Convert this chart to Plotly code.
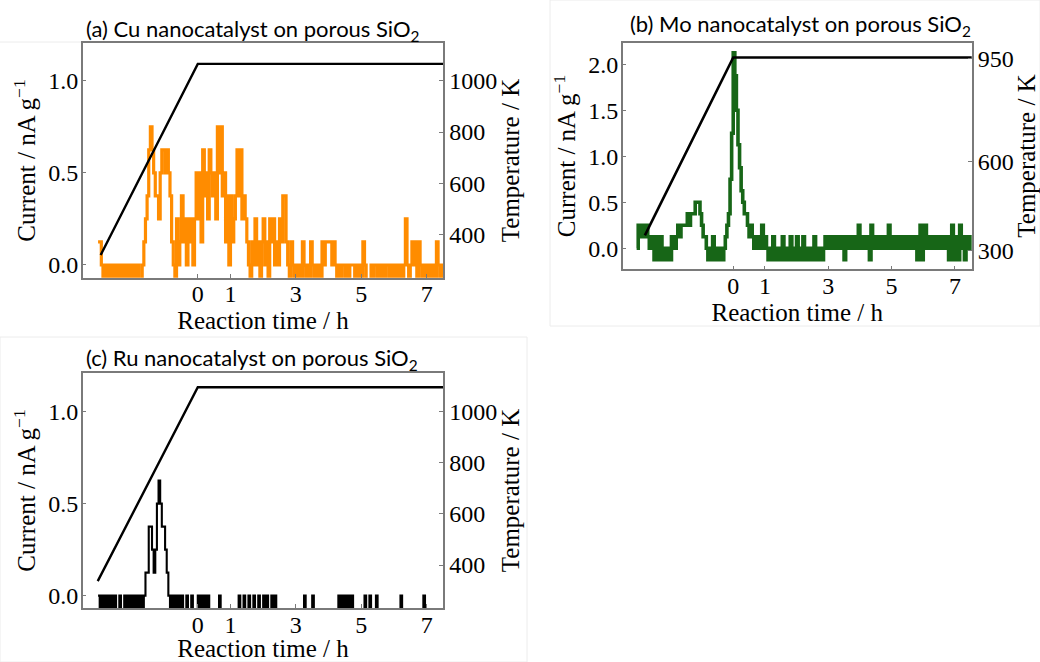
import numpy as np
import plotly.graph_objects as go

# ---------------- data ----------------
STEP_H = 0.05          # sampling interval of the current trace (h)
LEVEL = 0.125          # current quantisation step (nA g^-1)

time_ticks = [0, 1, 3, 5, 7]

# (a) Cu nanocatalyst: current levels (units of LEVEL), one value per STEP_H from cu_t0
cu_t0 = -3.05
cu_levels = [
    1, 1, 0, -1, 0, -1, 0, -1, 0, -1,
    0, -1, 0, -1, 0, -1, 0, -1, 0, -1,
    0, -1, 0, -1, 0, -1, -1, 0, 1, 2,
    3, 5, 6, 5, 4, 3, 3, 2, 4, 5,
    5, 4, 5, 4, 3, 1, 0, -1, 2, 0,
    1, 3, 1, 2, 0, 2, 1, 2, 0, 2,
    4, 2, 4, 1, 5, 3, 4, 2, 5, 4,
    3, 4, 2, 6, 4, 6, 3, 4, 1, 3,
    0, 3, 1, 2, 3, 5, 3, 5, 2, 3,
    2, 1, 0, -1, 1, 0, 2, 0, 1, -1,
    1, 2, 0, 1, -1, 2, 1, 2, 0, 1,
    0, 2, 1, 3, 3, 1, 0, -1, 1, 0,
    -1, 0, -1, 0, -1, 1, 0, -1, 0, -1,
    1, 0, -1, 0, -1, 0, -1, 1, 0, 1,
    1, 1, 1, 0, 1, 0, -1, 0, -1, 0,
    0, -1, 0, -1, 0, 0, 0, -1, 0, -1,
    0, -1, 1, 0, -1, -1, -1, 0, -1, 0,
    0, -1, 0, -1, 0, -1, 0, 0, -1, 0,
    -1, 0, -1, 0, -1, 0, -1, 0, 2, 0,
    -1, 0, 1, 0, 1, -1, 1, 0, -1, 0,
    -1, 0, -1, 0, -1, 0, -1, 1, 0, -1,
    0, -1,
]
cu_temp_time = [-2.97, 0.0, 7.6]
cu_temp_K = [322, 1065, 1065]

# (b) Mo nanocatalyst
mo_t0 = -3.05
mo_levels = [
    0, 2, 1, 1, 2, 1, 2, 1, 0, 1,
    0, -1, 1, -1, 0, 1, -1, 0, -1, -1,
    0, -1, 1, 1, 0, 1, 2, 1, 2, 2,
    2, 2, 3, 2, 3, 3, 3, 4, 4, 4,
    3, 2, 1, 1, 0, -1, 0, -1, 1, 0,
    -1, 0, -1, 0, -1, 0, 1, 2, 3, 6,
    10, 17, 15, 12, 9, 7, 5, 4, 3, 3,
    2, 1, 2, 1, 0, 1, 0, 1, 0, 2,
    0, 1, 0, -1, 0, -1, 1, -1, 0, -1,
    0, -1, 1, -1, 0, -1, 0, 1, -1, 0,
    -1, 1, -1, 0, -1, 1, 0, -1, 0, -1,
    0, -1, 1, -1, 0, -1, 0, -1, 0, 1,
    0, 1, 0, 1, 0, 1, 0, 1, 0, 1,
    0, -1, 1, 0, 1, 0, 1, 0, 1, 0,
    2, 0, 1, 0, 1, 0, 1, -1, 2, 1,
    0, 1, 0, 1, 0, 1, 0, 1, 0, 2,
    1, 0, 1, 0, 1, 0, 1, 0, 1, 0,
    1, 0, 1, 0, 1, 0, 1, -1, 0, 2,
    -1, 1, 2, 0, 1, 0, 1, 0, 1, 0,
    1, 0, 1, 0, 1, 0, 1, -1, 0, 2,
    -1, 1, 0, -1, 2, 0, 1, -1, 0, 1,
    0, 1, 0,
]
mo_temp_time = [-2.79, 0.0, 7.6]
mo_temp_K = [350, 953, 953]

# (c) Ru nanocatalyst
ru_t0 = -3.05
ru_levels = [
    0, -1, 0, -1, 0, -1, 0, -1, 0, -1,
    0, -1, -1, 0, -1, -1, 0, -1, 0, -1,
    0, -1, 0, -1, 0, -1, 0, -1, 0, 1,
    1, 3, 3, 2, 1, 2, 4, 5, 4, 3,
    3, 2, 1, 0, -1, 0, -1, 0, -1, 0,
    -1, 0, -1, -1, 0, -1, -1, 0, -1, -1,
    -1, 0, -1, 0, -1, 0, -1, 0, -1, -1,
    -1, -1, -1, -1, 0, -1, -1, -1, -1, -1,
    -1, -1, -1, -1, -1, -1, 0, -1, -1, 0,
    -1, -1, 0, -1, -1, 0, -1, -1, 0, -1,
    -1, 0, -1, 0, -1, -1, 0, -1, 0, -1,
    -1, -1, -1, -1, -1, -1, -1, -1, -1, -1,
    -1, -1, -1, -1, -1, -1, 0, -1, -1, -1,
    -1, 0, -1, -1, -1, -1, -1, -1, -1, -1,
    -1, -1, -1, -1, -1, -1, -1, 0, -1, 0,
    -1, 0, -1, 0, -1, 0, -1, -1, -1, -1,
    -1, -1, -1, 0, -1, -1, 0, -1, -1, -1,
    0, -1, -1, -1, -1, -1, -1, -1, -1, -1,
    -1, -1, -1, -1, -1, 0, -1, -1, -1, -1,
    -1, -1, -1, -1, -1, -1, -1, -1, -1, 0,
    -1, -1, -1, -1, -1, -1, -1, -1, -1, -1,
    -1, -1,
]
ru_temp_time = [-3.06, 0.0, 7.6]
ru_temp_K = [337, 1095, 1095]

current_ticks_1 = [0.0, 0.5, 1.0]
current_ticks_2 = [0.0, 0.5, 1.0, 1.5, 2.0]
temp_ticks_1 = [400, 600, 800, 1000]
temp_ticks_2 = [300, 600, 950]

titles = [
    "(a) Cu nanocatalyst on porous SiO<sub>2</sub>",
    "(b) Mo nanocatalyst on porous SiO<sub>2</sub>",
    "(c) Ru nanocatalyst on porous SiO<sub>2</sub>",
]


def series(t0, levels):
    t = t0 + STEP_H * np.arange(len(levels))
    return t, np.array(levels, dtype=float) * LEVEL


cu_t, cu_i = series(cu_t0, cu_levels)
mo_t, mo_i = series(mo_t0, mo_levels)
ru_t, ru_i = series(ru_t0, ru_levels)

# ---------------- figure ----------------
W, H = 1040, 662
SERIF = "Liberation Serif"
SANS = "Lato"
AXC = "#7a7a7a"

fig = go.Figure()

fig.add_trace(go.Scatter(x=cu_t, y=cu_i, mode="lines", line=dict(color="#FF8C00", width=3.2, shape="hv"),
                         xaxis="x", yaxis="y", showlegend=False))
fig.add_trace(go.Scatter(x=cu_temp_time, y=cu_temp_K, mode="lines", line=dict(color="black", width=2.4),
                         xaxis="x", yaxis="y2", showlegend=False))
fig.add_trace(go.Scatter(x=mo_t, y=mo_i, mode="lines", line=dict(color="#176617", width=3.6, shape="hv"),
                         xaxis="x2", yaxis="y3", showlegend=False))
fig.add_trace(go.Scatter(x=mo_temp_time, y=mo_temp_K, mode="lines", line=dict(color="black", width=2.6),
                         xaxis="x2", yaxis="y4", showlegend=False))
fig.add_trace(go.Scatter(x=ru_t, y=ru_i, mode="lines", line=dict(color="black", width=2.1, shape="hv"),
                         xaxis="x3", yaxis="y5", showlegend=False))
fig.add_trace(go.Scatter(x=ru_temp_time, y=ru_temp_K, mode="lines", line=dict(color="black", width=2.4),
                         xaxis="x3", yaxis="y6", showlegend=False))


def common(**kw):
    d = dict(showgrid=False, zeroline=False, ticks="inside", ticklen=4, tickwidth=1.2, tickcolor=AXC,
             tickfont=dict(family=SERIF, size=24, color="black"),
             title_font=dict(family=SERIF, size=25, color="black"))
    d.update(kw)
    return d


def xax(domain, rng, anchor):
    return common(domain=domain, range=rng, anchor=anchor, tickvals=time_ticks,
                  showline=True, mirror=True, linecolor=AXC, linewidth=1.5,
                  ticklabelstandoff=-6,
                  title=dict(text="Reaction time / h", standoff=2))


def yleft(domain, rng, anchor, ticks):
    return common(domain=domain, range=rng, anchor=anchor, tickvals=ticks,
                  ticktext=["%.1f" % v for v in ticks],
                  showline=True, mirror=True, linecolor=AXC, linewidth=1.5,
                  ticklabelstandoff=-2,
                  title=dict(text="Current / nA g<sup>\u22121</sup>", standoff=5))


def yright(over, rng, anchor, ticks):
    return common(overlaying=over, side="right", range=rng, anchor=anchor, tickvals=ticks,
                  showline=False, ticklabelstandoff=5,
                  title=dict(text="Temperature / K", standoff=3))


xa_dom = [82.7 / W, 443.3 / W]
xb_dom = [622.7 / W, 971.7 / W]
ya_dom = [1 - 277.7 / H, 1 - 43.3 / H]
yb_dom = [1 - 269.3 / H, 1 - 42.7 / H]
yc_dom = [1 - 608.0 / H, 1 - 373.0 / H]

fig.update_layout(
    width=W, height=H, margin=dict(l=0, r=0, t=0, b=0),
    paper_bgcolor="white", plot_bgcolor="white",
    xaxis=xax(xa_dom, [-3.52, 7.51], "y"),
    xaxis2=xax(xb_dom, [-3.49, 7.53], "y3"),
    xaxis3=xax(xa_dom, [-3.52, 7.51], "y5"),
    yaxis=yleft(ya_dom, [-0.069, 1.203], "x", current_ticks_1),
    yaxis2=yright("y", [234, 1145], "x", temp_ticks_1),
    yaxis3=yleft(yb_dom, [-0.228, 2.235], "x2", current_ticks_2),
    yaxis4=yright("y3", [235, 1003], "x2", temp_ticks_2),
    yaxis5=yleft(yc_dom, [-0.067, 1.21], "x3", current_ticks_1),
    yaxis6=yright("y5", [232, 1151], "x3", temp_ticks_1),
)

# panel titles
for txt, (px, py) in zip(titles, [(84, 30), (628, 25), (84, 359)]):
    fig.add_annotation(text=txt, x=px / W, y=1 - py / H, xref="paper", yref="paper",
                       xanchor="left", yanchor="middle", showarrow=False,
                       font=dict(family=SANS, size=22, color="black"))

# faint panel frames from the composite image
fig.add_shape(type="rect", xref="paper", yref="paper", x0=550 / W, x1=1.0, y0=1 - 326 / H, y1=1.0,
              line=dict(color="#ececec", width=1), layer="below")
fig.add_shape(type="rect", xref="paper", yref="paper", x0=0, x1=527 / W, y0=0, y1=1 - 337 / H,
              line=dict(color="#ececec", width=1), layer="below")
fig.add_shape(type="line", xref="paper", yref="paper", x0=0, x1=82 / W, y0=1 - 42 / H, y1=1 - 42 / H,
              line=dict(color="#ececec", width=1), layer="below")

fig.write_html("out.html")
